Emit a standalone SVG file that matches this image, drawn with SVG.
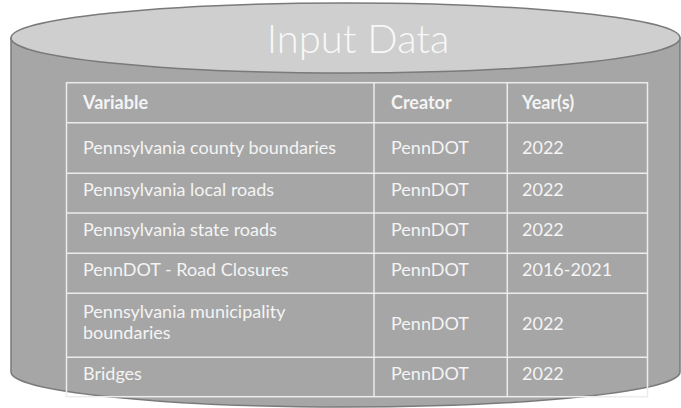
<svg xmlns="http://www.w3.org/2000/svg" width="681" height="408" viewBox="0 0 681 408">
<style>
.body{fill:#a6a6a6;stroke:#7a7a7a;stroke-width:1.5}
.top{fill:#cfcfcf;stroke:#7a7a7a;stroke-width:1.5}
.grid{stroke:#ececec;stroke-width:1.5;fill:none}
.t{font-family:"Lato","Liberation Sans",sans-serif;font-size:18px;fill:#f4f4f4}
.h{font-weight:bold}
.title{font-family:"Lato","Liberation Sans",sans-serif;font-weight:300;font-size:40px;fill:#f8f8f8}
</style>
<g id="cylinder">
<path class="body" d="M11,38 L11,372 A334.5,35 0 0 0 680,372 L680,38 Z"/>
<ellipse class="top" cx="345.5" cy="38" rx="334.5" ry="35"/>
<text class="title" x="358" y="53" text-anchor="middle">Input Data</text>
</g>
<g id="table">
<rect class="grid" x="66.5" y="82.7" width="581" height="314"/>
<path class="grid" d="M374,82.7V396.7M507.3,82.7V396.7M66.5,122.7H647.5M66.5,173.2H647.5M66.5,213H647.5M66.5,253.2H647.5M66.5,293.2H647.5M66.5,357.3H647.5"/>
<g class="t h">
<text x="83" y="109">Variable</text>
<text x="391" y="109">Creator</text>
<text x="522" y="109">Year(s)</text>
</g>
<g class="t">
<text x="83" y="154">Pennsylvania county boundaries</text>
<text x="391" y="154">PennDOT</text>
<text x="522" y="154">2022</text>
<text x="83" y="196">Pennsylvania local roads</text>
<text x="391" y="196">PennDOT</text>
<text x="522" y="196">2022</text>
<text x="83" y="236">Pennsylvania state roads</text>
<text x="391" y="236">PennDOT</text>
<text x="522" y="236">2022</text>
<text x="83" y="276">PennDOT - Road Closures</text>
<text x="391" y="276">PennDOT</text>
<text x="522" y="276">2016-2021</text>
<text x="83" y="318">Pennsylvania municipality</text>
<text x="83" y="339">boundaries</text>
<text x="391" y="330">PennDOT</text>
<text x="522" y="330">2022</text>
<text x="83" y="380">Bridges</text>
<text x="391" y="380">PennDOT</text>
<text x="522" y="380">2022</text>
</g>
</g>
</svg>
